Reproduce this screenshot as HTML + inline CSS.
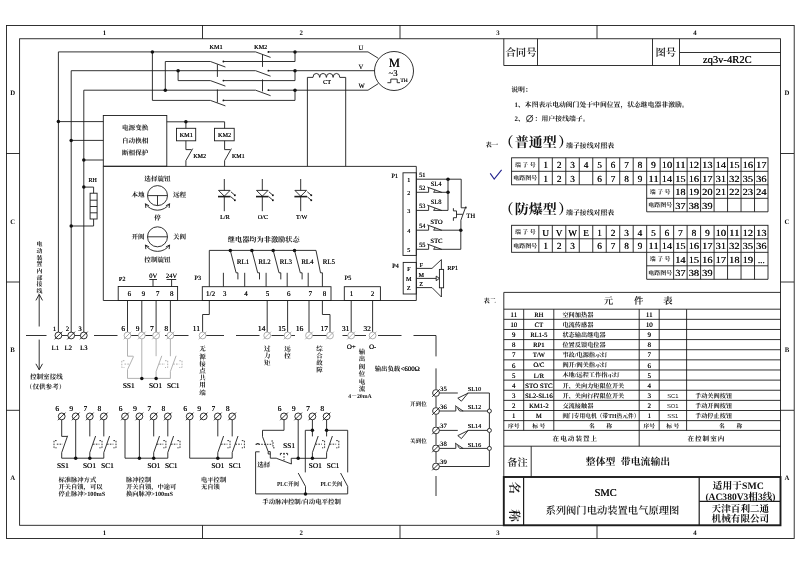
<!DOCTYPE html>
<html lang="zh-CN">
<head>
<meta charset="utf-8">
<title>SMC 系列阀门电动装置电气原理图</title>
<style>
html,body{margin:0;padding:0;background:#fff;}
body{width:800px;height:565px;overflow:hidden;}
svg{display:block;will-change:transform;}
svg text{stroke:none;fill:#111;text-rendering:geometricPrecision;}
.s{font-family:"Liberation Serif","Noto Serif CJK SC",serif;text-shadow:0.16px 0 0 #111;}
.sb{font-family:"Liberation Serif","Noto Serif CJK SC",serif;font-weight:bold;}
.ab{font-family:"Liberation Serif","Noto Serif CJK SC",serif;font-weight:bold;}
.an{font-family:"Liberation Sans","Noto Sans CJK SC",sans-serif;}
.c{font-family:"Liberation Serif","Noto Serif CJK SC",serif;font-weight:500;}
.cb{font-family:"Liberation Serif","Noto Serif CJK SC",serif;font-weight:700;}
.c6{font-family:"Liberation Serif","Noto Serif CJK SC",serif;font-weight:600;}
.ch{font-family:"Liberation Serif","Noto Serif CJK SC",serif;font-weight:700;}
.cm{font-family:"Liberation Serif","Noto Serif CJK SC",serif;font-weight:700;}
</style>
</head>
<body>
<svg width="800" height="565" viewBox="0 0 800 565">
<rect x="0" y="0" width="800" height="565" fill="#fff"/>
<g fill="none" stroke="#1c1c1c" stroke-width="0.9">
<g id="frame">
<rect x="6.5" y="25.5" width="787.7" height="513"/>
<rect x="19.6" y="38.75" width="760.9" height="486.55"/>
<line x1="202.5" y1="25" x2="202.5" y2="38.75"/>
<line x1="202.5" y1="525.3" x2="202.5" y2="538.6"/>
<line x1="400" y1="25" x2="400" y2="38.75"/>
<line x1="400" y1="525.3" x2="400" y2="538.6"/>
<line x1="597" y1="25" x2="597" y2="38.75"/>
<line x1="597" y1="525.3" x2="597" y2="538.6"/>
<line x1="6" y1="153.5" x2="19.6" y2="153.5"/>
<line x1="780.5" y1="153.5" x2="794" y2="153.5"/>
<line x1="6" y1="282" x2="19.6" y2="282"/>
<line x1="780.5" y1="282" x2="794" y2="282"/>
<line x1="6" y1="410.3" x2="19.6" y2="410.3"/>
<line x1="780.5" y1="410.3" x2="794" y2="410.3"/>
<text class="ab" x="104.5" y="34.58" font-size="6.8" text-anchor="middle">1</text>
<text class="ab" x="104.5" y="534.68" font-size="6.8" text-anchor="middle">1</text>
<text class="ab" x="301.25" y="34.58" font-size="6.8" text-anchor="middle">2</text>
<text class="ab" x="301.25" y="534.68" font-size="6.8" text-anchor="middle">2</text>
<text class="ab" x="498" y="34.58" font-size="6.8" text-anchor="middle">3</text>
<text class="ab" x="498" y="534.68" font-size="6.8" text-anchor="middle">3</text>
<text class="ab" x="695" y="34.58" font-size="6.8" text-anchor="middle">4</text>
<text class="ab" x="695" y="534.68" font-size="6.8" text-anchor="middle">4</text>
<text class="ab" x="12.6" y="95.38" font-size="6.8" text-anchor="middle">D</text>
<text class="ab" x="787" y="95.38" font-size="6.8" text-anchor="middle">D</text>
<text class="ab" x="12.6" y="223.88" font-size="6.8" text-anchor="middle">C</text>
<text class="ab" x="787" y="223.88" font-size="6.8" text-anchor="middle">C</text>
<text class="ab" x="12.6" y="351.88" font-size="6.8" text-anchor="middle">B</text>
<text class="ab" x="787" y="351.88" font-size="6.8" text-anchor="middle">B</text>
<text class="ab" x="12.6" y="480.08" font-size="6.8" text-anchor="middle">A</text>
<text class="ab" x="787" y="480.08" font-size="6.8" text-anchor="middle">A</text>
</g>
<g id="power">
<polyline points="58.4,332.1 58.4,51.9 255.6,51.9"/>
<polyline points="71.2,332.1 71.2,70.7 255.6,70.7"/>
<polyline points="83.8,332.1 83.8,90.2 255.6,90.2"/>
<polyline points="152.4,51.9 152.4,100.4 210.4,100.4"/>
<polyline points="165.3,90.2 165.3,61.5 210.4,61.5"/>
<polyline points="178.1,70.7 178.1,80.6 210.4,80.6"/>
<circle cx="152.4" cy="51.9" r="1.75" fill="#111" stroke="none"/>
<circle cx="165.3" cy="90.2" r="1.75" fill="#111" stroke="none"/>
<circle cx="178.1" cy="70.7" r="1.75" fill="#111" stroke="none"/>
<line x1="210.4" y1="61.5" x2="225.4" y2="67"/>
<line x1="223.2" y1="61.5" x2="295" y2="61.5"/>
<circle cx="223.4" cy="61.5" r="0.9" fill="#111" stroke="none"/>
<line x1="210.4" y1="80.6" x2="225.4" y2="86.1"/>
<line x1="223.2" y1="80.6" x2="295" y2="80.6"/>
<circle cx="223.4" cy="80.6" r="0.9" fill="#111" stroke="none"/>
<line x1="210.4" y1="100.4" x2="225.4" y2="105.9"/>
<line x1="223.2" y1="100.4" x2="295" y2="100.4"/>
<circle cx="223.4" cy="100.4" r="0.9" fill="#111" stroke="none"/>
<line x1="255.6" y1="51.9" x2="270.6" y2="57.4"/>
<line x1="268.2" y1="51.9" x2="295" y2="51.9"/>
<circle cx="268.4" cy="51.9" r="0.9" fill="#111" stroke="none"/>
<line x1="255.6" y1="70.7" x2="270.6" y2="76.2"/>
<line x1="268.2" y1="70.7" x2="295" y2="70.7"/>
<circle cx="268.4" cy="70.7" r="0.9" fill="#111" stroke="none"/>
<line x1="255.6" y1="90.2" x2="270.6" y2="95.7"/>
<line x1="268.2" y1="90.2" x2="295" y2="90.2"/>
<circle cx="268.4" cy="90.2" r="0.9" fill="#111" stroke="none"/>
<text class="s" x="216" y="48.97" font-size="6.21" text-anchor="middle">KM1</text>
<text class="s" x="260.6" y="48.97" font-size="6.21" text-anchor="middle">KM2</text>
<line x1="217.4" y1="64.4" x2="217.4" y2="76.9"/>
<line x1="217.4" y1="89.4" x2="217.4" y2="102.6"/>
<line x1="262.5" y1="54.4" x2="262.5" y2="66.9"/>
<line x1="262.5" y1="79.4" x2="262.5" y2="91.4"/>
<line x1="295" y1="51.9" x2="295" y2="61.5"/>
<circle cx="295" cy="51.9" r="1.75" fill="#111" stroke="none"/>
<line x1="295" y1="70.7" x2="295" y2="80.6"/>
<circle cx="295" cy="70.7" r="1.75" fill="#111" stroke="none"/>
<line x1="295" y1="90.2" x2="295" y2="100.4"/>
<circle cx="295" cy="90.2" r="1.75" fill="#111" stroke="none"/>
<polyline points="295,51.9 368,51.9 378.3,58.3"/>
<line x1="295" y1="70.7" x2="374.6" y2="70.7"/>
<polyline points="295,90.2 368,90.2 378.3,83.6"/>
<circle cx="394" cy="71" r="19.5"/>
<text class="s" x="360.8" y="50.25" font-size="6.42" text-anchor="middle">U</text>
<text class="s" x="360.8" y="68.85" font-size="6.42" text-anchor="middle">V</text>
<text class="s" x="361.5" y="88.45" font-size="6.42" text-anchor="middle">W</text>
<text class="s" x="394.3" y="66.71" font-size="12.6" text-anchor="middle">M</text>
<text class="s" x="393" y="76.27" font-size="8.77" text-anchor="middle">~3</text>
<polyline points="387.4,82.7 390.8,82.7 390.8,79.1 397.2,79.1 397.2,82.7 400,82.7"/>
<text class="s" x="404" y="81.75" font-size="5.56" text-anchor="middle">TH</text>
<polyline points="307.4,166.2 307.4,77.4 313,77.4"/>
<polyline points="345.7,166.2 345.7,77.4 339.8,77.4"/>
<path d="M313,77.4 a3.35,3.95 0 0 1 6.7,0 a3.35,3.95 0 0 1 6.7,0 a3.35,3.95 0 0 1 6.7,0 a3.35,3.95 0 0 1 6.7,0"/>
<text class="s" x="327" y="84.37" font-size="6.21" text-anchor="middle">CT</text>
</g>
<g id="pbox">
<rect x="103.3" y="115.5" width="63.5" height="50.7"/>
<line x1="58.4" y1="121.6" x2="103.3" y2="121.6"/>
<circle cx="58.4" cy="121.6" r="1.75" fill="#111" stroke="none"/>
<line x1="71.2" y1="140.4" x2="103.3" y2="140.4"/>
<circle cx="71.2" cy="140.4" r="1.75" fill="#111" stroke="none"/>
<line x1="83.8" y1="160" x2="103.3" y2="160"/>
<circle cx="83.8" cy="160" r="1.75" fill="#111" stroke="none"/>
<text class="cb" x="135.2" y="130.31" font-size="6.6" text-anchor="middle">电源变换</text>
<text class="cb" x="135.2" y="142.81" font-size="6.6" text-anchor="middle">自动换相</text>
<text class="cb" x="135.2" y="155.31" font-size="6.6" text-anchor="middle">断相保护</text>
<polyline points="166.8,121.8 224.6,121.8 224.6,128.3"/>
<circle cx="185.9" cy="121.8" r="1.75" fill="#111" stroke="none"/>
<line x1="185.9" y1="121.8" x2="185.9" y2="128.3"/>
<rect x="176.5" y="128.3" width="19.2" height="12.5"/>
<rect x="214.5" y="128.3" width="19.7" height="12.5"/>
<text class="s" x="186.2" y="136.87" font-size="6.21" text-anchor="middle">KM1</text>
<text class="s" x="224.5" y="136.87" font-size="6.21" text-anchor="middle">KM2</text>
<line x1="185.9" y1="140.8" x2="185.9" y2="149.6"/>
<line x1="185.9" y1="149.6" x2="191.5" y2="149.6"/>
<line x1="185.9" y1="166.2" x2="185.9" y2="160.6"/>
<line x1="185.9" y1="160.6" x2="192.7" y2="148.6"/>
<line x1="224.6" y1="140.8" x2="224.6" y2="149.6"/>
<line x1="224.6" y1="149.6" x2="230.2" y2="149.6"/>
<line x1="224.6" y1="166.2" x2="224.6" y2="160.6"/>
<line x1="224.6" y1="160.6" x2="231.4" y2="148.6"/>
<text class="s" x="199.6" y="158.3" font-size="5.99" text-anchor="middle">KM2</text>
<text class="s" x="238.2" y="158.3" font-size="5.99" text-anchor="middle">KM1</text>
<text class="s" x="92.6" y="182.1" font-size="5.99" text-anchor="middle">RH</text>
<circle cx="83.8" cy="187.1" r="1.75" fill="#111" stroke="none"/>
<polyline points="83.8,187.1 93.6,187.1 93.6,193.2"/>
<rect x="90.1" y="193.2" width="7" height="25.8"/>
<line x1="90.1" y1="200.2" x2="97.1" y2="200.2"/>
<line x1="90.1" y1="206.5" x2="97.1" y2="206.5"/>
<line x1="90.1" y1="212.8" x2="97.1" y2="212.8"/>
<polyline points="93.6,219 93.6,226 71.2,226"/>
<circle cx="71.2" cy="226" r="1.75" fill="#111" stroke="none"/>
</g>
<g id="mainbox">
<polyline points="103.3,166.4 416.3,166.4 416.3,300.5"/>
<line x1="103.3" y1="166.4" x2="103.3" y2="300.5"/>
<line x1="103.3" y1="300.5" x2="416.3" y2="300.5"/>
<text class="cb" x="157.5" y="181.31" font-size="6.6" text-anchor="middle">选择旋钮</text>
<circle cx="157.5" cy="195.6" r="10"/>
<line x1="147.5" y1="195.6" x2="167.5" y2="195.6"/>
<line x1="157.5" y1="195.6" x2="157.5" y2="205.6"/>
<text class="cb" x="138" y="197.31" font-size="6.6" text-anchor="middle">本地</text>
<text class="cb" x="179.6" y="197.31" font-size="6.6" text-anchor="middle">远程</text>
<path d="M145.4,203.76 A14.6,14.6 0 0 0 169.6,203.76"/>
<polyline points="149.1,205.74 145.4,203.76 145.84,207.94"/>
<polyline points="169.16,207.94 169.6,203.76 165.9,205.74"/>
<text class="cb" x="157.5" y="219.71" font-size="6.6" text-anchor="middle">停</text>
<circle cx="157.5" cy="236.8" r="10"/>
<line x1="147.5" y1="236.8" x2="167.5" y2="236.8"/>
<text class="cb" x="138" y="238.91" font-size="6.6" text-anchor="middle">开阀</text>
<text class="cb" x="179.6" y="238.91" font-size="6.6" text-anchor="middle">关阀</text>
<path d="M145.4,244.96 A14.6,14.6 0 0 0 169.6,244.96"/>
<polyline points="149.1,246.94 145.4,244.96 145.84,249.14"/>
<polyline points="169.16,249.14 169.6,244.96 165.9,246.94"/>
<text class="cb" x="157.5" y="262.11" font-size="6.6" text-anchor="middle">控制旋钮</text>
<line x1="224.3" y1="179" x2="224.3" y2="211.2"/>
<path d="M218.5,190.4 L230.1,190.4 L224.3,196.2 Z" fill="#fff"/>
<line x1="218" y1="196.6" x2="230.6" y2="196.6" stroke-width="1.6"/>
<line x1="230.9" y1="191.8" x2="234.5" y2="194.9"/>
<rect x="234" y="194.4" width="1.7" height="1.7" fill="#111" stroke="none"/>
<line x1="230.9" y1="196.8" x2="234.5" y2="199.9"/>
<rect x="234" y="199.4" width="1.7" height="1.7" fill="#111" stroke="none"/>
<text class="s" x="224.8" y="218.77" font-size="6.21" text-anchor="middle">L/R</text>
<line x1="262.3" y1="179" x2="262.3" y2="211.2"/>
<path d="M256.5,190.4 L268.1,190.4 L262.3,196.2 Z" fill="#fff"/>
<line x1="256" y1="196.6" x2="268.6" y2="196.6" stroke-width="1.6"/>
<line x1="268.9" y1="191.8" x2="272.5" y2="194.9"/>
<rect x="272" y="194.4" width="1.7" height="1.7" fill="#111" stroke="none"/>
<line x1="268.9" y1="196.8" x2="272.5" y2="199.9"/>
<rect x="272" y="199.4" width="1.7" height="1.7" fill="#111" stroke="none"/>
<text class="s" x="262.8" y="218.77" font-size="6.21" text-anchor="middle">O/C</text>
<line x1="300.7" y1="179" x2="300.7" y2="211.2"/>
<path d="M294.9,190.4 L306.5,190.4 L300.7,196.2 Z" fill="#fff"/>
<line x1="294.4" y1="196.6" x2="307" y2="196.6" stroke-width="1.6"/>
<line x1="307.3" y1="191.8" x2="310.9" y2="194.9"/>
<rect x="310.4" y="194.4" width="1.7" height="1.7" fill="#111" stroke="none"/>
<line x1="307.3" y1="196.8" x2="310.9" y2="199.9"/>
<rect x="310.4" y="199.4" width="1.7" height="1.7" fill="#111" stroke="none"/>
<text class="s" x="301.6" y="218.77" font-size="6.21" text-anchor="middle">T/W</text>
<text class="cb" x="263.7" y="241.52" font-size="7.2" text-anchor="middle">继电器均为非激励状态</text>
<polyline points="209.3,286.7 209.3,250.4 316,250.4"/>
<circle cx="230.3" cy="250.4" r="1.75" fill="#111" stroke="none"/>
<polyline points="230.3,250.4 236.1,272.8 237.9,272.8 237.9,279.4"/>
<circle cx="251.9" cy="250.4" r="1.75" fill="#111" stroke="none"/>
<polyline points="251.9,250.4 257.7,272.8 259.5,272.8 259.5,279.4"/>
<circle cx="273.2" cy="250.4" r="1.75" fill="#111" stroke="none"/>
<polyline points="273.2,250.4 279,272.8 280.8,272.8 280.8,279.4"/>
<circle cx="294.5" cy="250.4" r="1.75" fill="#111" stroke="none"/>
<polyline points="294.5,250.4 300.3,272.8 302.1,272.8 302.1,279.4"/>
<polyline points="316,250.4 320.5,272.8 322.4,272.8 322.4,286.7"/>
<line x1="223.4" y1="272.8" x2="223.4" y2="286.7"/>
<line x1="244.7" y1="272.8" x2="244.7" y2="286.7"/>
<line x1="266.1" y1="272.8" x2="266.1" y2="286.7"/>
<line x1="287.2" y1="272.8" x2="287.2" y2="286.7"/>
<line x1="308.2" y1="272.8" x2="308.2" y2="286.7"/>
<text class="s" x="243" y="264.02" font-size="6.9" text-anchor="middle">RL1</text>
<text class="s" x="264.5" y="264.02" font-size="6.9" text-anchor="middle">RL2</text>
<text class="s" x="285.8" y="264.02" font-size="6.9" text-anchor="middle">RL3</text>
<text class="s" x="307.4" y="264.02" font-size="6.9" text-anchor="middle">RL4</text>
<text class="s" x="328.8" y="264.02" font-size="6.9" text-anchor="middle">RL5</text>
<rect x="118.2" y="286.5" width="59.4" height="14"/>
<text class="s" x="129.3" y="296.29" font-size="7.1" text-anchor="middle">6</text>
<text class="s" x="143.3" y="296.29" font-size="7.1" text-anchor="middle">9</text>
<text class="s" x="157.5" y="296.29" font-size="7.1" text-anchor="middle">7</text>
<text class="s" x="171.7" y="296.29" font-size="7.1" text-anchor="middle">8</text>
<text class="s" x="122.2" y="280.6" font-size="6.3" text-anchor="middle">P2</text>
<text class="s" x="153.2" y="277.81" font-size="6.6" text-anchor="middle">0V</text>
<text class="s" x="171.4" y="277.81" font-size="6.6" text-anchor="middle">24V</text>
<line x1="153" y1="279.5" x2="153" y2="286.5"/>
<line x1="171.6" y1="279.5" x2="171.6" y2="286.5"/>
<line x1="149.3" y1="279.5" x2="157" y2="279.5"/>
<line x1="166.6" y1="279.5" x2="176.2" y2="279.5"/>
<rect x="202.3" y="286.7" width="128.7" height="13.8"/>
<text class="s" x="210.5" y="296.49" font-size="7.1" text-anchor="middle">1/2</text>
<text class="s" x="224.6" y="296.49" font-size="7.1" text-anchor="middle">3</text>
<text class="s" x="245.9" y="296.49" font-size="7.1" text-anchor="middle">4</text>
<text class="s" x="267.4" y="296.49" font-size="7.1" text-anchor="middle">5</text>
<text class="s" x="288.7" y="296.49" font-size="7.1" text-anchor="middle">6</text>
<text class="s" x="310.2" y="296.49" font-size="7.1" text-anchor="middle">7</text>
<text class="s" x="324.4" y="296.49" font-size="7.1" text-anchor="middle">8</text>
<text class="s" x="197.7" y="280.24" font-size="6.4" text-anchor="middle">P3</text>
<rect x="344.3" y="286.7" width="36.1" height="13.8"/>
<text class="s" x="351.4" y="296.49" font-size="7.1" text-anchor="middle">1</text>
<text class="s" x="372.4" y="296.49" font-size="7.1" text-anchor="middle">2</text>
<text class="s" x="347.8" y="280.24" font-size="6.4" text-anchor="middle">P5</text>
</g>
<g id="p1">
<rect x="403" y="172.8" width="13.3" height="82.6"/>
<rect x="403.2" y="262.4" width="13.1" height="31.6"/>
<text class="s" x="394.6" y="178.24" font-size="6.4" text-anchor="middle">P1</text>
<text class="s" x="395.4" y="268.24" font-size="6.4" text-anchor="middle">P4</text>
<text class="s" x="408.7" y="181.57" font-size="6.21" text-anchor="middle">1</text>
<text class="s" x="408.7" y="194.77" font-size="6.21" text-anchor="middle">2</text>
<text class="s" x="408.7" y="213.37" font-size="6.21" text-anchor="middle">3</text>
<text class="s" x="408.7" y="232.57" font-size="6.21" text-anchor="middle">4</text>
<text class="s" x="408.7" y="252.17" font-size="6.21" text-anchor="middle">5</text>
<text class="s" x="422.2" y="176.94" font-size="6.4" text-anchor="middle">51</text>
<text class="s" x="422.2" y="190.04" font-size="6.4" text-anchor="middle">52</text>
<text class="s" x="422.2" y="208.14" font-size="6.4" text-anchor="middle">53</text>
<text class="s" x="422.2" y="227.94" font-size="6.4" text-anchor="middle">54</text>
<text class="s" x="422.2" y="247.04" font-size="6.4" text-anchor="middle">55</text>
<polyline points="416.3,179.2 461.2,179.2 461.2,207.8"/>
<circle cx="448" cy="179.2" r="1.75" fill="#111" stroke="none"/>
<line x1="448" y1="179.2" x2="448" y2="210.4"/>
<circle cx="448" cy="192.3" r="1.75" fill="#111" stroke="none"/>
<line x1="416.3" y1="192.3" x2="428.6" y2="192.3"/>
<line x1="428.6" y1="192.3" x2="428.6" y2="188"/>
<line x1="427.2" y1="187" x2="441.8" y2="192.4"/>
<path d="M435.2,189.9 L433.6,192.3 L448,192.3" />
<text class="s" x="436" y="186.21" font-size="6.6" text-anchor="middle">SL4</text>
<line x1="416.3" y1="210.4" x2="428.6" y2="210.4"/>
<line x1="428.6" y1="210.4" x2="428.6" y2="206.1"/>
<line x1="427.2" y1="205.1" x2="441.8" y2="210.5"/>
<path d="M435.2,208 L433.6,210.4 L448,210.4" />
<text class="s" x="436" y="204.31" font-size="6.6" text-anchor="middle">SL8</text>
<line x1="416.3" y1="230.2" x2="428.6" y2="230.2"/>
<line x1="428.6" y1="230.2" x2="428.6" y2="225.9"/>
<line x1="427.2" y1="224.9" x2="441.8" y2="230.3"/>
<path d="M435.2,227.8 L433.6,230.2 L460.8,230.2" />
<text class="s" x="436.4" y="224.11" font-size="6.6" text-anchor="middle">STO</text>
<line x1="416.3" y1="249.3" x2="428.6" y2="249.3"/>
<line x1="428.6" y1="249.3" x2="428.6" y2="245"/>
<line x1="427.2" y1="244" x2="441.8" y2="249.4"/>
<path d="M435.2,246.9 L433.6,249.3 L460.8,249.3" />
<text class="s" x="436.4" y="243.21" font-size="6.6" text-anchor="middle">STC</text>
<circle cx="460.8" cy="230.2" r="1.75" fill="#111" stroke="none"/>
<line x1="460.8" y1="230.2" x2="460.8" y2="249.3"/>
<line x1="465.9" y1="206.4" x2="460.9" y2="220.2"/>
<line x1="460.9" y1="220.2" x2="460.9" y2="230.2"/>
<line x1="461.2" y1="207.8" x2="467" y2="207.8"/>
<polyline points="453.4,208.2 453.4,210.9 456.5,210.9 456.5,217.7 453.4,217.7 453.4,220.8"/>
<line x1="456.5" y1="214.3" x2="462.8" y2="214.3"/>
<text class="s" x="470.6" y="217.51" font-size="6.6" text-anchor="middle">TH</text>
<text class="s" x="408.7" y="270.57" font-size="6.21" text-anchor="middle">F</text>
<text class="s" x="421.2" y="266.8" font-size="5.99" text-anchor="middle">F</text>
<text class="s" x="408.7" y="280.77" font-size="6.21" text-anchor="middle">M</text>
<text class="s" x="421.2" y="276.8" font-size="5.99" text-anchor="middle">M</text>
<text class="s" x="408.7" y="289.97" font-size="6.21" text-anchor="middle">Z</text>
<text class="s" x="421.2" y="286" font-size="5.99" text-anchor="middle">Z</text>
<polyline points="416.3,268.4 432,268.4 441.4,259.6 441.4,269.4"/>
<polyline points="416.3,287.6 432,287.6 441.4,297 441.4,287.8"/>
<rect x="439.4" y="269.4" width="4.2" height="18.4"/>
<line x1="416.3" y1="278.4" x2="436.4" y2="278.4"/>
<path d="M436.2,276.1 L439.4,278.4 L436.2,280.7 Z" fill="#fff"/>
<text class="s" x="452.6" y="269.81" font-size="6.31" text-anchor="middle">RP1</text>
</g>
<g id="terms">
<line x1="26" y1="335.5" x2="46.5" y2="335.5"/>
<line x1="58.5" y1="335.5" x2="82" y2="335.5"/>
<line x1="94" y1="335.5" x2="117.5" y2="335.5"/>
<line x1="129.5" y1="335.5" x2="153" y2="335.5"/>
<line x1="165" y1="335.5" x2="188.5" y2="335.5"/>
<line x1="200.5" y1="335.5" x2="224" y2="335.5"/>
<line x1="236" y1="335.5" x2="259.5" y2="335.5"/>
<line x1="271.5" y1="335.5" x2="295" y2="335.5"/>
<line x1="307" y1="335.5" x2="330.5" y2="335.5"/>
<line x1="342.5" y1="335.5" x2="366" y2="335.5"/>
<line x1="378" y1="335.5" x2="401.5" y2="335.5"/>
<line x1="413.5" y1="335.5" x2="436" y2="335.5"/>
<polyline points="436,335.5 436,356.4"/>
<line x1="436" y1="368.4" x2="436" y2="389"/>
<line x1="436" y1="396.6" x2="436" y2="407.2"/>
<line x1="436" y1="414.6" x2="436" y2="426.6"/>
<line x1="436" y1="434" x2="436" y2="444.6"/>
<line x1="436" y1="452" x2="436" y2="462.6"/>
<line x1="436" y1="476" x2="436" y2="496"/>
<line x1="39.2" y1="326.5" x2="39.2" y2="294.6"/>
<polyline points="35.9,300.4 39.2,294.4 42.5,300.4"/>
<line x1="39.2" y1="339.6" x2="39.2" y2="369.6"/>
<polyline points="35.9,363.8 39.2,369.8 42.5,363.8"/>
<text class="cm" x="39.4" y="246.06" font-size="5.9" text-anchor="middle">电</text>
<text class="cm" x="39.4" y="252.78" font-size="5.9" text-anchor="middle">动</text>
<text class="cm" x="39.4" y="259.5" font-size="5.9" text-anchor="middle">装</text>
<text class="cm" x="39.4" y="266.23" font-size="5.9" text-anchor="middle">置</text>
<text class="cm" x="39.4" y="272.94" font-size="5.9" text-anchor="middle">内</text>
<text class="cm" x="39.4" y="279.67" font-size="5.9" text-anchor="middle">部</text>
<text class="cm" x="39.4" y="286.38" font-size="5.9" text-anchor="middle">接</text>
<text class="cm" x="39.4" y="293.11" font-size="5.9" text-anchor="middle">线</text>
<text class="cb" x="46.4" y="379.31" font-size="6.6" text-anchor="middle">控制室接线</text>
<text class="cb" x="45.6" y="388.61" font-size="6.6" text-anchor="middle">（仅供参考）</text>
<circle cx="58.4" cy="335.5" r="3.4" fill="#fff"/>
<line x1="54.58" y1="339.32" x2="62.22" y2="331.68"/>
<text class="s" x="54.5" y="330.92" font-size="6.63" text-anchor="middle">1</text>
<text class="s" x="55.3" y="350.12" font-size="6.63" text-anchor="middle">L1</text>
<circle cx="71.2" cy="335.5" r="3.4" fill="#fff"/>
<line x1="67.38" y1="339.32" x2="75.02" y2="331.68"/>
<text class="s" x="67.3" y="330.92" font-size="6.63" text-anchor="middle">2</text>
<text class="s" x="68.2" y="350.12" font-size="6.63" text-anchor="middle">L2</text>
<circle cx="83.8" cy="335.5" r="3.4" fill="#fff"/>
<line x1="79.98" y1="339.32" x2="87.62" y2="331.68"/>
<text class="s" x="79.9" y="330.92" font-size="6.63" text-anchor="middle">3</text>
<text class="s" x="83.8" y="350.12" font-size="6.63" text-anchor="middle">L3</text>
<line x1="127.5" y1="300.5" x2="127.5" y2="332.3"/>
<circle cx="127.5" cy="335.5" r="3.4" stroke="#a8a8a8" fill="#fff"/>
<line x1="123.68" y1="339.32" x2="131.32" y2="331.68" stroke="#a8a8a8"/>
<text class="s" x="123.2" y="331.12" font-size="7.5" text-anchor="middle">6</text>
<line x1="141.8" y1="300.5" x2="141.8" y2="332.3"/>
<circle cx="141.8" cy="335.5" r="3.4" stroke="#a8a8a8" fill="#fff"/>
<line x1="137.98" y1="339.32" x2="145.62" y2="331.68" stroke="#a8a8a8"/>
<text class="s" x="137.5" y="331.12" font-size="7.5" text-anchor="middle">9</text>
<line x1="156.1" y1="300.5" x2="156.1" y2="332.3"/>
<circle cx="156.1" cy="335.5" r="3.4" stroke="#a8a8a8" fill="#fff"/>
<line x1="152.28" y1="339.32" x2="159.92" y2="331.68" stroke="#a8a8a8"/>
<text class="s" x="151.8" y="331.12" font-size="7.5" text-anchor="middle">7</text>
<line x1="170.4" y1="300.5" x2="170.4" y2="332.3"/>
<circle cx="170.4" cy="335.5" r="3.4" stroke="#a8a8a8" fill="#fff"/>
<line x1="166.58" y1="339.32" x2="174.22" y2="331.68" stroke="#a8a8a8"/>
<text class="s" x="166.1" y="331.12" font-size="7.5" text-anchor="middle">8</text>
<g stroke="#a8a8a8">
<polyline points="127.5,338.9 127.5,356.2 133.2,356.2"/>
<line x1="127.5" y1="369.6" x2="133.6" y2="356.4"/>
<line x1="127.5" y1="369.6" x2="127.5" y2="378.4"/>
<line x1="141.8" y1="338.9" x2="141.8" y2="378.4"/>
<line x1="156.1" y1="338.9" x2="156.1" y2="356.2"/>
<line x1="156.1" y1="371.4" x2="161.8" y2="355.8"/>
<line x1="156.1" y1="371.4" x2="156.1" y2="378.4"/>
<line x1="170.4" y1="338.9" x2="170.4" y2="356.2"/>
<line x1="170.4" y1="371.4" x2="176.1" y2="355.8"/>
<line x1="170.4" y1="371.4" x2="170.4" y2="378.4"/>
<line x1="127.5" y1="378.4" x2="170.4" y2="378.4"/>
<line x1="124.5" y1="364.1" x2="130" y2="364.1" stroke-dasharray="1.6 1.2"/>
<polyline points="124.4,360.7 121.8,360.7 121.8,367.5 124.4,367.5" stroke-dasharray="1.6 1.2"/>
<line x1="159" y1="364.1" x2="165" y2="364.1" stroke-dasharray="1.6 1.2"/>
<polyline points="165,360.7 167.7,360.7 167.7,367.5 165,367.5" stroke-dasharray="1.6 1.2"/>
<line x1="173.2" y1="364.1" x2="179.3" y2="364.1" stroke-dasharray="1.6 1.2"/>
<polyline points="179.3,360.7 182,360.7 182,367.5 179.3,367.5" stroke-dasharray="1.6 1.2"/>
</g>
<circle cx="141.8" cy="378.4" r="1.75" fill="#111" stroke="none"/>
<circle cx="156.1" cy="378.4" r="1.75" fill="#111" stroke="none"/>
<text class="s" x="128.7" y="387.86" font-size="7.3" text-anchor="middle">SS1</text>
<text class="s" x="155.4" y="387.86" font-size="7.3" text-anchor="middle">SO1</text>
<text class="s" x="173.2" y="387.86" font-size="7.3" text-anchor="middle">SC1</text>
<polyline points="209.3,300.5 209.3,314.5 202.6,314.5 202.6,332.3"/>
<circle cx="202.6" cy="335.5" r="3.4" stroke="#a8a8a8" fill="#fff"/>
<line x1="198.78" y1="339.32" x2="206.42" y2="331.68" stroke="#a8a8a8"/>
<text class="s" x="196.3" y="331.12" font-size="7.5" text-anchor="middle">11</text>
<text class="cm" x="202.6" y="351.47" font-size="6.5" text-anchor="middle">无</text>
<text class="cm" x="202.6" y="358.67" font-size="6.5" text-anchor="middle">源</text>
<text class="cm" x="202.6" y="365.87" font-size="6.5" text-anchor="middle">接</text>
<text class="cm" x="202.6" y="373.07" font-size="6.5" text-anchor="middle">点</text>
<text class="cm" x="202.6" y="380.27" font-size="6.5" text-anchor="middle">共</text>
<text class="cm" x="202.6" y="387.47" font-size="6.5" text-anchor="middle">用</text>
<text class="cm" x="202.6" y="394.67" font-size="6.5" text-anchor="middle">端</text>
<line x1="267.2" y1="300.5" x2="267.2" y2="332.3"/>
<circle cx="267.2" cy="335.5" r="3.4" stroke="#a8a8a8" fill="#fff"/>
<line x1="263.38" y1="339.32" x2="271.02" y2="331.68" stroke="#a8a8a8"/>
<text class="s" x="261.6" y="331.02" font-size="7.5" text-anchor="middle">14</text>
<line x1="287.6" y1="300.5" x2="287.6" y2="332.3"/>
<circle cx="287.6" cy="335.5" r="3.4" stroke="#a8a8a8" fill="#fff"/>
<line x1="283.78" y1="339.32" x2="291.42" y2="331.68" stroke="#a8a8a8"/>
<text class="s" x="281.8" y="331.02" font-size="7.5" text-anchor="middle">15</text>
<line x1="309" y1="300.5" x2="309" y2="332.3"/>
<circle cx="309" cy="335.5" r="3.4" stroke="#a8a8a8" fill="#fff"/>
<line x1="305.18" y1="339.32" x2="312.82" y2="331.68" stroke="#a8a8a8"/>
<text class="s" x="299.6" y="331.02" font-size="7.5" text-anchor="middle">16</text>
<polyline points="322.4,300.5 322.4,314.5 330,314.5 330,332.3"/>
<circle cx="330" cy="335.5" r="3.4" stroke="#a8a8a8" fill="#fff"/>
<line x1="326.18" y1="339.32" x2="333.82" y2="331.68" stroke="#a8a8a8"/>
<text class="s" x="324.2" y="331.02" font-size="7.5" text-anchor="middle">17</text>
<text class="cm" x="267.2" y="350.67" font-size="6.5" text-anchor="middle">过</text>
<text class="cm" x="267.2" y="358.07" font-size="6.5" text-anchor="middle">力</text>
<text class="cm" x="267.2" y="365.47" font-size="6.5" text-anchor="middle">矩</text>
<text class="cm" x="287.6" y="350.67" font-size="6.5" text-anchor="middle">远</text>
<text class="cm" x="287.6" y="358.07" font-size="6.5" text-anchor="middle">控</text>
<text class="cm" x="319.4" y="350.67" font-size="6.5" text-anchor="middle">综</text>
<text class="cm" x="319.4" y="357.67" font-size="6.5" text-anchor="middle">合</text>
<text class="cm" x="319.4" y="364.67" font-size="6.5" text-anchor="middle">故</text>
<text class="cm" x="319.4" y="371.67" font-size="6.5" text-anchor="middle">障</text>
<line x1="351.2" y1="300.5" x2="351.2" y2="332.3"/>
<circle cx="351.2" cy="335.5" r="3.4" stroke="#a8a8a8" fill="#fff"/>
<line x1="347.38" y1="339.32" x2="355.02" y2="331.68" stroke="#a8a8a8"/>
<text class="s" x="345.6" y="331.02" font-size="7.5" text-anchor="middle">31</text>
<text class="s" x="351.2" y="349" font-size="6.85" text-anchor="middle">O+</text>
<line x1="372.6" y1="300.5" x2="372.6" y2="332.3"/>
<circle cx="372.6" cy="335.5" r="3.4" stroke="#a8a8a8" fill="#fff"/>
<line x1="368.78" y1="339.32" x2="376.42" y2="331.68" stroke="#a8a8a8"/>
<text class="s" x="367" y="331.02" font-size="7.5" text-anchor="middle">32</text>
<text class="s" x="372.6" y="349" font-size="6.85" text-anchor="middle">O-</text>
<text class="cm" x="362" y="353.88" font-size="6.5" text-anchor="middle">输</text>
<text class="cm" x="362" y="361.31" font-size="6.5" text-anchor="middle">出</text>
<text class="cm" x="362" y="368.75" font-size="6.5" text-anchor="middle">阀</text>
<text class="cm" x="362" y="376.19" font-size="6.5" text-anchor="middle">位</text>
<text class="cm" x="362" y="383.63" font-size="6.5" text-anchor="middle">电</text>
<text class="cm" x="362" y="391.07" font-size="6.5" text-anchor="middle">流</text>
<text class="cb" x="360" y="398.23" font-size="5.8" text-anchor="middle">4－20mA</text>
<text class="cb" x="400.2" y="371.04" font-size="6.4" text-anchor="end">输出负载</text>
<text class="s" x="400.4" y="371.31" font-size="6.9">&lt;600Ω</text>
</g>
<g id="limits">
<circle cx="436" cy="393" r="3.4" fill="#fff"/>
<line x1="432.18" y1="396.82" x2="439.82" y2="389.18"/>
<text class="s" x="443.4" y="390.71" font-size="6.6" text-anchor="middle">35</text>
<circle cx="436" cy="411" r="3.4" fill="#fff"/>
<line x1="432.18" y1="414.82" x2="439.82" y2="407.18"/>
<text class="s" x="443.4" y="408.71" font-size="6.6" text-anchor="middle">36</text>
<circle cx="436" cy="430.4" r="3.4" fill="#fff"/>
<line x1="432.18" y1="434.22" x2="439.82" y2="426.58"/>
<text class="s" x="443.4" y="428.11" font-size="6.6" text-anchor="middle">37</text>
<circle cx="436" cy="448.4" r="3.4" fill="#fff"/>
<line x1="432.18" y1="452.22" x2="439.82" y2="444.58"/>
<text class="s" x="443.4" y="446.11" font-size="6.6" text-anchor="middle">38</text>
<circle cx="436" cy="466.5" r="3.4" fill="#fff"/>
<line x1="432.18" y1="470.32" x2="439.82" y2="462.68"/>
<text class="s" x="443.4" y="464.21" font-size="6.6" text-anchor="middle">39</text>
<line x1="489.4" y1="393" x2="489.4" y2="466.5"/>
<line x1="439.4" y1="466.5" x2="489.4" y2="466.5"/>
<line x1="439.4" y1="393" x2="457.8" y2="393"/>
<path d="M457.8,398.2 L468,393.2 L461.4,401.2 Z" fill="#fff"/>
<line x1="467.6" y1="393" x2="489.4" y2="393"/>
<text class="s" x="474.4" y="390.77" font-size="6.2" text-anchor="middle">SL10</text>
<line x1="439.4" y1="411" x2="455.8" y2="411"/>
<line x1="455.8" y1="411" x2="455.8" y2="406.4"/>
<line x1="455" y1="405.6" x2="463" y2="411"/>
<path d="M457.6,408.2 l2,2.8 l3.6,0"/>
<line x1="462.8" y1="411" x2="489.4" y2="411"/>
<text class="s" x="474.4" y="409.37" font-size="6.2" text-anchor="middle">SL12</text>
<line x1="439.4" y1="430.4" x2="457.8" y2="430.4"/>
<path d="M457.8,435.6 L468,430.6 L461.4,438.6 Z" fill="#fff"/>
<line x1="467.6" y1="430.4" x2="489.4" y2="430.4"/>
<text class="s" x="474.4" y="428.17" font-size="6.2" text-anchor="middle">SL14</text>
<line x1="439.4" y1="448.4" x2="455.8" y2="448.4"/>
<line x1="455.8" y1="448.4" x2="455.8" y2="443.8"/>
<line x1="455" y1="443" x2="463" y2="448.4"/>
<path d="M457.6,445.6 l2,2.8 l3.6,0"/>
<line x1="462.8" y1="448.4" x2="489.4" y2="448.4"/>
<text class="s" x="474.4" y="446.77" font-size="6.2" text-anchor="middle">SL16</text>
<circle cx="489.4" cy="411" r="2" fill="#fff"/>
<circle cx="489.4" cy="430.4" r="2" fill="#fff"/>
<circle cx="489.4" cy="448.4" r="2" fill="#fff"/>
<text class="cb" x="418.4" y="405.96" font-size="5.6" text-anchor="middle">开到位</text>
<text class="cb" x="418.4" y="443.16" font-size="5.6" text-anchor="middle">关到位</text>
</g>
<g id="ctl">
<circle cx="61.7" cy="416.4" r="3.4" fill="#fff"/>
<line x1="57.88" y1="420.22" x2="65.52" y2="412.58"/>
<text class="s" x="57.2" y="411.02" font-size="7.5" text-anchor="middle">6</text>
<circle cx="75.7" cy="416.4" r="3.4" fill="#fff"/>
<line x1="71.88" y1="420.22" x2="79.52" y2="412.58"/>
<text class="s" x="71.2" y="411.02" font-size="7.5" text-anchor="middle">9</text>
<circle cx="89.8" cy="416.4" r="3.4" fill="#fff"/>
<line x1="85.98" y1="420.22" x2="93.62" y2="412.58"/>
<text class="s" x="85.3" y="411.02" font-size="7.5" text-anchor="middle">7</text>
<circle cx="103.8" cy="416.4" r="3.4" fill="#fff"/>
<line x1="99.98" y1="420.22" x2="107.62" y2="412.58"/>
<text class="s" x="99.3" y="411.02" font-size="7.5" text-anchor="middle">8</text>
<polyline points="61.7,419.8 61.7,436.4 67.3,436.4"/>
<line x1="61.7" y1="452.6" x2="67.6" y2="435.8"/>
<line x1="61.7" y1="452.6" x2="61.7" y2="458.2"/>
<line x1="56.8" y1="444.2" x2="62.6" y2="444.2" stroke-dasharray="1.6 1.2"/>
<polyline points="56.6,440.6 54,440.6 54,447.8 56.6,447.8" stroke-dasharray="1.6 1.2"/>
<line x1="75.7" y1="419.8" x2="75.7" y2="458.2"/>
<line x1="89.8" y1="419.8" x2="89.8" y2="436.4"/>
<line x1="89.8" y1="452.6" x2="95.6" y2="436"/>
<line x1="89.8" y1="452.6" x2="89.8" y2="458.2"/>
<line x1="93" y1="444.2" x2="99.4" y2="444.2" stroke-dasharray="1.6 1.2"/>
<polyline points="99.4,440.6 102,440.6 102,447.8 99.4,447.8" stroke-dasharray="1.6 1.2"/>
<line x1="103.8" y1="419.8" x2="103.8" y2="436.4"/>
<line x1="103.8" y1="452.6" x2="109.6" y2="436"/>
<line x1="103.8" y1="452.6" x2="103.8" y2="458.2"/>
<line x1="107" y1="444.2" x2="113.4" y2="444.2" stroke-dasharray="1.6 1.2"/>
<polyline points="113.4,440.6 116,440.6 116,447.8 113.4,447.8" stroke-dasharray="1.6 1.2"/>
<line x1="61.7" y1="458.2" x2="103.8" y2="458.2"/>
<circle cx="75.7" cy="458.2" r="1.75" fill="#111" stroke="none"/>
<circle cx="89.8" cy="458.2" r="1.75" fill="#111" stroke="none"/>
<text class="s" x="62.8" y="468.16" font-size="7.3" text-anchor="middle">SS1</text>
<text class="s" x="89.4" y="468.16" font-size="7.3" text-anchor="middle">SO1</text>
<text class="s" x="107.4" y="468.16" font-size="7.3" text-anchor="middle">SC1</text>
<text class="cm" x="58.4" y="482" font-size="6.3">标准脉冲方式</text>
<text class="cm" x="58.4" y="488.81" font-size="6.3">开关自锁，可以</text>
<text class="cm" x="58.4" y="495.5" font-size="6.3">停止脉冲&gt;100mS</text>
<circle cx="125" cy="416.4" r="3.4" fill="#fff"/>
<line x1="121.18" y1="420.22" x2="128.82" y2="412.58"/>
<text class="s" x="120.5" y="411.02" font-size="7.5" text-anchor="middle">6</text>
<circle cx="139.4" cy="416.4" r="3.4" fill="#fff"/>
<line x1="135.58" y1="420.22" x2="143.22" y2="412.58"/>
<text class="s" x="134.9" y="411.02" font-size="7.5" text-anchor="middle">9</text>
<circle cx="153.7" cy="416.4" r="3.4" fill="#fff"/>
<line x1="149.88" y1="420.22" x2="157.52" y2="412.58"/>
<text class="s" x="149.2" y="411.02" font-size="7.5" text-anchor="middle">7</text>
<circle cx="167.8" cy="416.4" r="3.4" fill="#fff"/>
<line x1="163.98" y1="420.22" x2="171.62" y2="412.58"/>
<text class="s" x="163.3" y="411.02" font-size="7.5" text-anchor="middle">8</text>
<line x1="125" y1="419.8" x2="125" y2="458.2"/>
<line x1="139.4" y1="419.8" x2="139.4" y2="458.2"/>
<line x1="153.7" y1="419.8" x2="153.7" y2="436.4"/>
<line x1="153.7" y1="452.6" x2="159.5" y2="436"/>
<line x1="153.7" y1="452.6" x2="153.7" y2="458.2"/>
<line x1="156.9" y1="444.2" x2="163.3" y2="444.2" stroke-dasharray="1.6 1.2"/>
<polyline points="163.3,440.6 165.9,440.6 165.9,447.8 163.3,447.8" stroke-dasharray="1.6 1.2"/>
<line x1="167.8" y1="419.8" x2="167.8" y2="436.4"/>
<line x1="167.8" y1="452.6" x2="173.6" y2="436"/>
<line x1="167.8" y1="452.6" x2="167.8" y2="458.2"/>
<line x1="171" y1="444.2" x2="177.4" y2="444.2" stroke-dasharray="1.6 1.2"/>
<polyline points="177.4,440.6 180,440.6 180,447.8 177.4,447.8" stroke-dasharray="1.6 1.2"/>
<line x1="125" y1="458.2" x2="167.8" y2="458.2"/>
<circle cx="139.4" cy="458.2" r="1.75" fill="#111" stroke="none"/>
<circle cx="153.7" cy="458.2" r="1.75" fill="#111" stroke="none"/>
<text class="s" x="153.8" y="468.16" font-size="7.3" text-anchor="middle">SO1</text>
<text class="s" x="171.2" y="468.16" font-size="7.3" text-anchor="middle">SC1</text>
<text class="cm" x="126" y="482" font-size="6.3">脉冲控制</text>
<text class="cm" x="126" y="488.81" font-size="6.3">开关自锁，中途可</text>
<text class="cm" x="126" y="495.5" font-size="6.3">换向脉冲&gt;100mS</text>
<circle cx="189.7" cy="416.4" r="3.4" fill="#fff"/>
<line x1="185.88" y1="420.22" x2="193.52" y2="412.58"/>
<text class="s" x="185.2" y="411.02" font-size="7.5" text-anchor="middle">6</text>
<circle cx="203.7" cy="416.4" r="3.4" fill="#fff"/>
<line x1="199.88" y1="420.22" x2="207.52" y2="412.58"/>
<text class="s" x="199.2" y="411.02" font-size="7.5" text-anchor="middle">9</text>
<circle cx="217.8" cy="416.4" r="3.4" fill="#fff"/>
<line x1="213.98" y1="420.22" x2="221.62" y2="412.58"/>
<text class="s" x="213.3" y="411.02" font-size="7.5" text-anchor="middle">7</text>
<circle cx="232.2" cy="416.4" r="3.4" fill="#fff"/>
<line x1="228.38" y1="420.22" x2="236.02" y2="412.58"/>
<text class="s" x="227.7" y="411.02" font-size="7.5" text-anchor="middle">8</text>
<line x1="189.7" y1="419.8" x2="189.7" y2="458.2"/>
<line x1="217.8" y1="419.8" x2="217.8" y2="436.4"/>
<line x1="217.8" y1="452.6" x2="223.6" y2="436"/>
<line x1="217.8" y1="452.6" x2="217.8" y2="458.2"/>
<line x1="221" y1="444.2" x2="227.4" y2="444.2" stroke-dasharray="1.6 1.2"/>
<polyline points="227.4,440.6 230,440.6 230,447.8 227.4,447.8" stroke-dasharray="1.6 1.2"/>
<line x1="232.2" y1="419.8" x2="232.2" y2="436.4"/>
<line x1="232.2" y1="452.6" x2="238" y2="436"/>
<line x1="232.2" y1="452.6" x2="232.2" y2="458.2"/>
<line x1="235.4" y1="444.2" x2="241.8" y2="444.2" stroke-dasharray="1.6 1.2"/>
<polyline points="241.8,440.6 244.4,440.6 244.4,447.8 241.8,447.8" stroke-dasharray="1.6 1.2"/>
<line x1="189.7" y1="458.2" x2="232.2" y2="458.2"/>
<circle cx="217.8" cy="458.2" r="1.75" fill="#111" stroke="none"/>
<text class="s" x="217.8" y="467.95" font-size="7.3" text-anchor="middle">SO1</text>
<text class="s" x="235" y="467.95" font-size="7.3" text-anchor="middle">SC1</text>
<text class="cm" x="201" y="482.2" font-size="6.3">电平控制</text>
<text class="cm" x="201" y="489" font-size="6.3">无自锁</text>
<circle cx="284" cy="416.4" r="3.4" fill="#fff"/>
<line x1="280.18" y1="420.22" x2="287.82" y2="412.58"/>
<text class="s" x="279.5" y="411.02" font-size="7.5" text-anchor="middle">6</text>
<circle cx="298.2" cy="416.4" r="3.4" fill="#fff"/>
<line x1="294.38" y1="420.22" x2="302.02" y2="412.58"/>
<text class="s" x="293.7" y="411.02" font-size="7.5" text-anchor="middle">9</text>
<circle cx="312.4" cy="416.4" r="3.4" fill="#fff"/>
<line x1="308.58" y1="420.22" x2="316.22" y2="412.58"/>
<text class="s" x="307.9" y="411.02" font-size="7.5" text-anchor="middle">7</text>
<circle cx="326.6" cy="416.4" r="3.4" fill="#fff"/>
<line x1="322.78" y1="420.22" x2="330.42" y2="412.58"/>
<text class="s" x="322.1" y="411.02" font-size="7.5" text-anchor="middle">8</text>
<polyline points="284,419.8 284,430.3 262.5,430.3 262.5,436.6 268.2,451.6"/>
<polyline points="268.2,451.6 270.3,451.6 270.3,458.2 276.2,458.2 291.4,464 291.2,458.3 326.6,458.3"/>
<line x1="268.2" y1="451.6" x2="268.2" y2="454"/>
<line x1="268.2" y1="454" x2="270.3" y2="454"/>
<line x1="255.6" y1="444.3" x2="272.8" y2="444.3" stroke-dasharray="1.6 1.2"/>
<path d="M255.2,444.3 l2.6,-1.4 l2.6,1.4 z" fill="#111" stroke="none"/>
<polyline points="271.4,441 273,441 273,447.8 275,447.8" stroke-dasharray="1.6 1.2"/>
<polyline points="259.6,451.8 255.6,451.8 255.6,493.9 347.7,493.9 347.7,486.4 340.6,473"/>
<polyline points="280.4,453.4 287.6,453.4" stroke-dasharray="1.6 1.2"/>
<line x1="284" y1="453.4" x2="284" y2="460.4" stroke-dasharray="1.6 1.2"/>
<line x1="280.4" y1="453.4" x2="280.4" y2="455.2"/>
<line x1="287.6" y1="453.4" x2="287.6" y2="455.2"/>
<line x1="298.2" y1="419.8" x2="298.2" y2="458.2"/>
<circle cx="298.2" cy="458.2" r="1.75" fill="#111" stroke="none"/>
<line x1="312.4" y1="419.8" x2="312.4" y2="436.4"/>
<line x1="312.4" y1="452.6" x2="318.2" y2="436"/>
<line x1="312.4" y1="452.6" x2="312.4" y2="458.2"/>
<line x1="315.6" y1="444.2" x2="322" y2="444.2" stroke-dasharray="1.6 1.2"/>
<polyline points="322,440.6 324.6,440.6 324.6,447.8 322,447.8" stroke-dasharray="1.6 1.2"/>
<line x1="326.6" y1="419.8" x2="326.6" y2="436.4"/>
<line x1="326.6" y1="452.6" x2="332.4" y2="436"/>
<line x1="326.6" y1="452.6" x2="326.6" y2="458.2"/>
<line x1="329.8" y1="444.2" x2="336.2" y2="444.2" stroke-dasharray="1.6 1.2"/>
<polyline points="336.2,440.6 338.8,440.6 338.8,447.8 336.2,447.8" stroke-dasharray="1.6 1.2"/>
<circle cx="312.4" cy="458.2" r="1.75" fill="#111" stroke="none"/>
<circle cx="312.4" cy="430.3" r="1.75" fill="#111" stroke="none"/>
<circle cx="326.6" cy="430.3" r="1.75" fill="#111" stroke="none"/>
<polyline points="312.4,430.3 305.3,430.3 305.3,472.4"/>
<polyline points="326.6,430.3 347.7,430.3 347.7,472.4"/>
<polyline points="298.2,473 305.5,486.4 305.5,493.9"/>
<circle cx="305.5" cy="493.9" r="1.75" fill="#111" stroke="none"/>
<text class="s" x="289" y="448.16" font-size="7.3" text-anchor="middle">SS1</text>
<text class="cb" x="263.8" y="466.91" font-size="6.6" text-anchor="middle">选择</text>
<text class="s" x="315.2" y="467.86" font-size="7.3" text-anchor="middle">SO1</text>
<text class="s" x="333" y="467.86" font-size="7.3" text-anchor="middle">SC1</text>
<text class="cb" x="288" y="485.9" font-size="6" text-anchor="middle" textLength="22" lengthAdjust="spacingAndGlyphs">PLC开阀</text>
<text class="cb" x="331.4" y="485.9" font-size="6" text-anchor="middle" textLength="22" lengthAdjust="spacingAndGlyphs">PLC关阀</text>
<text class="cb" x="301.6" y="503.54" font-size="6.4" text-anchor="middle">手动脉冲控制/自动电平控制</text>
</g>
<g id="hdr">
<line x1="503.8" y1="38.75" x2="503.8" y2="65.5"/>
<line x1="503.8" y1="65.5" x2="780.5" y2="65.5"/>
<line x1="537.5" y1="38.75" x2="537.5" y2="65.5"/>
<line x1="652.5" y1="38.75" x2="652.5" y2="65.5"/>
<line x1="679.5" y1="38.75" x2="679.5" y2="65.5"/>
<line x1="679.5" y1="52.5" x2="780.5" y2="52.5"/>
<text class="c6" x="521" y="56.04" font-size="10.4" text-anchor="middle">合同号</text>
<text class="c6" x="665.8" y="55.64" font-size="10.4" text-anchor="middle">图号</text>
<text class="s" x="727.2" y="62.61" font-size="10.6" text-anchor="middle">zq3v-4R2C</text>
<text class="cb" x="511.2" y="92.02" font-size="6.9">说明：</text>
<text class="cb" x="514.6" y="107.38" font-size="6.8" textLength="174" lengthAdjust="spacing">1、本图表示电动阀门处于中间位置，状态继电器非激励。</text>
<text class="cb" x="514.6" y="121.18" font-size="6.8">2、</text>
<circle cx="529.6" cy="118.6" r="3.1"/>
<line x1="526.6" y1="122.2" x2="532.8" y2="115"/>
<text class="cb" x="534.6" y="121.18" font-size="6.8" textLength="55" lengthAdjust="spacing">：用户接线端子。</text>
</g>
<g id="tab1">
<text class="cb" x="491.8" y="146.84" font-size="6.4" text-anchor="middle">表一</text>
<text class="ch" x="535.8" y="147.3" font-size="14" text-anchor="middle">普通型</text>
<text class="ch" x="513.6" y="147.1" font-size="14" text-anchor="end">（</text>
<text class="ch" x="558.2" y="147.1" font-size="14">）</text>
<text class="cb" x="566" y="148.41" font-size="6.9">端子接线对照表</text>
<text class="ch" x="535.8" y="214.3" font-size="14" text-anchor="middle">防爆型</text>
<text class="ch" x="513.6" y="214.1" font-size="14" text-anchor="end">（</text>
<text class="ch" x="558.2" y="214.1" font-size="14">）</text>
<text class="cb" x="566" y="215.01" font-size="6.9">端子接线对照表</text>
<polyline points="490.2,173.4 494.2,179 501.6,169.8" stroke="#23238e" stroke-width="1.1"/>
<rect x="511.6" y="157.8" width="256.4" height="27"/>
<line x1="511.6" y1="171.3" x2="768" y2="171.3"/>
<line x1="538.84" y1="157.8" x2="538.84" y2="184.8"/>
<line x1="552.32" y1="157.8" x2="552.32" y2="184.8"/>
<line x1="565.8" y1="157.8" x2="565.8" y2="184.8"/>
<line x1="579.28" y1="157.8" x2="579.28" y2="184.8"/>
<line x1="592.76" y1="157.8" x2="592.76" y2="184.8"/>
<line x1="606.24" y1="157.8" x2="606.24" y2="184.8"/>
<line x1="619.72" y1="157.8" x2="619.72" y2="184.8"/>
<line x1="633.2" y1="157.8" x2="633.2" y2="184.8"/>
<line x1="646.68" y1="157.8" x2="646.68" y2="184.8"/>
<line x1="660.16" y1="157.8" x2="660.16" y2="184.8"/>
<line x1="673.64" y1="157.8" x2="673.64" y2="184.8"/>
<line x1="687.12" y1="157.8" x2="687.12" y2="184.8"/>
<line x1="700.6" y1="157.8" x2="700.6" y2="184.8"/>
<line x1="714.08" y1="157.8" x2="714.08" y2="184.8"/>
<line x1="727.56" y1="157.8" x2="727.56" y2="184.8"/>
<line x1="741.04" y1="157.8" x2="741.04" y2="184.8"/>
<line x1="754.52" y1="157.8" x2="754.52" y2="184.8"/>
<polyline points="646.68,184.8 646.68,211.8 768,211.8 768,184.8"/>
<line x1="646.68" y1="198.3" x2="768" y2="198.3"/>
<line x1="673.64" y1="184.8" x2="673.64" y2="211.8"/>
<line x1="687.12" y1="184.8" x2="687.12" y2="211.8"/>
<line x1="700.6" y1="184.8" x2="700.6" y2="211.8"/>
<line x1="714.08" y1="184.8" x2="714.08" y2="211.8"/>
<line x1="727.56" y1="184.8" x2="727.56" y2="211.8"/>
<line x1="741.04" y1="184.8" x2="741.04" y2="211.8"/>
<line x1="754.52" y1="184.8" x2="754.52" y2="211.8"/>
<text class="cb" x="525.22" y="166.62" font-size="5.9" text-anchor="middle">端 子 号</text>
<text class="cb" x="525.22" y="180.15" font-size="6" text-anchor="middle">电路图号</text>
<text class="cb" x="660.16" y="193.62" font-size="5.9" text-anchor="middle">端 子 号</text>
<text class="cb" x="660.16" y="207.15" font-size="6" text-anchor="middle">电路图号</text>
<text class="s" x="545.58" y="168.11" font-size="9.3" text-anchor="middle">1</text>
<text class="s" x="559.06" y="168.11" font-size="9.3" text-anchor="middle">2</text>
<text class="s" x="572.54" y="168.11" font-size="9.3" text-anchor="middle">3</text>
<text class="s" x="586.02" y="168.11" font-size="9.3" text-anchor="middle">4</text>
<text class="s" x="599.5" y="168.11" font-size="9.3" text-anchor="middle">5</text>
<text class="s" x="612.98" y="168.11" font-size="9.3" text-anchor="middle">6</text>
<text class="s" x="626.46" y="168.11" font-size="9.3" text-anchor="middle">7</text>
<text class="s" x="639.94" y="168.11" font-size="9.3" text-anchor="middle">8</text>
<text class="s" x="653.42" y="168.11" font-size="9.3" text-anchor="middle">9</text>
<text class="s" x="666.9" y="168.11" font-size="9.3" text-anchor="middle" textLength="10.4" lengthAdjust="spacingAndGlyphs">10</text>
<text class="s" x="680.38" y="168.11" font-size="9.3" text-anchor="middle" textLength="10.4" lengthAdjust="spacingAndGlyphs">11</text>
<text class="s" x="693.86" y="168.11" font-size="9.3" text-anchor="middle" textLength="10.4" lengthAdjust="spacingAndGlyphs">12</text>
<text class="s" x="707.34" y="168.11" font-size="9.3" text-anchor="middle" textLength="10.4" lengthAdjust="spacingAndGlyphs">13</text>
<text class="s" x="720.82" y="168.11" font-size="9.3" text-anchor="middle" textLength="10.4" lengthAdjust="spacingAndGlyphs">14</text>
<text class="s" x="734.3" y="168.11" font-size="9.3" text-anchor="middle" textLength="10.4" lengthAdjust="spacingAndGlyphs">15</text>
<text class="s" x="747.78" y="168.11" font-size="9.3" text-anchor="middle" textLength="10.4" lengthAdjust="spacingAndGlyphs">16</text>
<text class="s" x="761.26" y="168.11" font-size="9.3" text-anchor="middle" textLength="10.4" lengthAdjust="spacingAndGlyphs">17</text>
<text class="s" x="545.58" y="181.61" font-size="9.3" text-anchor="middle">1</text>
<text class="s" x="559.06" y="181.61" font-size="9.3" text-anchor="middle">2</text>
<text class="s" x="572.54" y="181.61" font-size="9.3" text-anchor="middle">3</text>
<text class="s" x="599.5" y="181.61" font-size="9.3" text-anchor="middle">6</text>
<text class="s" x="612.98" y="181.61" font-size="9.3" text-anchor="middle">7</text>
<text class="s" x="626.46" y="181.61" font-size="9.3" text-anchor="middle">8</text>
<text class="s" x="639.94" y="181.61" font-size="9.3" text-anchor="middle">9</text>
<text class="s" x="653.42" y="181.61" font-size="9.3" text-anchor="middle" textLength="10.4" lengthAdjust="spacingAndGlyphs">11</text>
<text class="s" x="666.9" y="181.61" font-size="9.3" text-anchor="middle" textLength="10.4" lengthAdjust="spacingAndGlyphs">14</text>
<text class="s" x="680.38" y="181.61" font-size="9.3" text-anchor="middle" textLength="10.4" lengthAdjust="spacingAndGlyphs">15</text>
<text class="s" x="693.86" y="181.61" font-size="9.3" text-anchor="middle" textLength="10.4" lengthAdjust="spacingAndGlyphs">16</text>
<text class="s" x="707.34" y="181.61" font-size="9.3" text-anchor="middle" textLength="10.4" lengthAdjust="spacingAndGlyphs">17</text>
<text class="s" x="720.82" y="181.61" font-size="9.3" text-anchor="middle" textLength="10.4" lengthAdjust="spacingAndGlyphs">31</text>
<text class="s" x="734.3" y="181.61" font-size="9.3" text-anchor="middle" textLength="10.4" lengthAdjust="spacingAndGlyphs">32</text>
<text class="s" x="747.78" y="181.61" font-size="9.3" text-anchor="middle" textLength="10.4" lengthAdjust="spacingAndGlyphs">35</text>
<text class="s" x="761.26" y="181.61" font-size="9.3" text-anchor="middle" textLength="10.4" lengthAdjust="spacingAndGlyphs">36</text>
<text class="s" x="680.38" y="195.11" font-size="9.3" text-anchor="middle" textLength="10.4" lengthAdjust="spacingAndGlyphs">18</text>
<text class="s" x="693.86" y="195.11" font-size="9.3" text-anchor="middle" textLength="10.4" lengthAdjust="spacingAndGlyphs">19</text>
<text class="s" x="707.34" y="195.11" font-size="9.3" text-anchor="middle" textLength="10.4" lengthAdjust="spacingAndGlyphs">20</text>
<text class="s" x="720.82" y="195.11" font-size="9.3" text-anchor="middle" textLength="10.4" lengthAdjust="spacingAndGlyphs">21</text>
<text class="s" x="734.3" y="195.11" font-size="9.3" text-anchor="middle" textLength="10.4" lengthAdjust="spacingAndGlyphs">22</text>
<text class="s" x="747.78" y="195.11" font-size="9.3" text-anchor="middle" textLength="10.4" lengthAdjust="spacingAndGlyphs">23</text>
<text class="s" x="761.26" y="195.11" font-size="9.3" text-anchor="middle" textLength="10.4" lengthAdjust="spacingAndGlyphs">24</text>
<text class="s" x="680.38" y="208.61" font-size="9.3" text-anchor="middle" textLength="10.4" lengthAdjust="spacingAndGlyphs">37</text>
<text class="s" x="693.86" y="208.61" font-size="9.3" text-anchor="middle" textLength="10.4" lengthAdjust="spacingAndGlyphs">38</text>
<text class="s" x="707.34" y="208.61" font-size="9.3" text-anchor="middle" textLength="10.4" lengthAdjust="spacingAndGlyphs">39</text>
<rect x="511.6" y="225.3" width="256.4" height="27"/>
<line x1="511.6" y1="238.8" x2="768" y2="238.8"/>
<line x1="538.84" y1="225.3" x2="538.84" y2="252.3"/>
<line x1="552.32" y1="225.3" x2="552.32" y2="252.3"/>
<line x1="565.8" y1="225.3" x2="565.8" y2="252.3"/>
<line x1="579.28" y1="225.3" x2="579.28" y2="252.3"/>
<line x1="592.76" y1="225.3" x2="592.76" y2="252.3"/>
<line x1="606.24" y1="225.3" x2="606.24" y2="252.3"/>
<line x1="619.72" y1="225.3" x2="619.72" y2="252.3"/>
<line x1="633.2" y1="225.3" x2="633.2" y2="252.3"/>
<line x1="646.68" y1="225.3" x2="646.68" y2="252.3"/>
<line x1="660.16" y1="225.3" x2="660.16" y2="252.3"/>
<line x1="673.64" y1="225.3" x2="673.64" y2="252.3"/>
<line x1="687.12" y1="225.3" x2="687.12" y2="252.3"/>
<line x1="700.6" y1="225.3" x2="700.6" y2="252.3"/>
<line x1="714.08" y1="225.3" x2="714.08" y2="252.3"/>
<line x1="727.56" y1="225.3" x2="727.56" y2="252.3"/>
<line x1="741.04" y1="225.3" x2="741.04" y2="252.3"/>
<line x1="754.52" y1="225.3" x2="754.52" y2="252.3"/>
<polyline points="646.68,252.3 646.68,279.3 768,279.3 768,252.3"/>
<line x1="646.68" y1="265.8" x2="768" y2="265.8"/>
<line x1="673.64" y1="252.3" x2="673.64" y2="279.3"/>
<line x1="687.12" y1="252.3" x2="687.12" y2="279.3"/>
<line x1="700.6" y1="252.3" x2="700.6" y2="279.3"/>
<line x1="714.08" y1="252.3" x2="714.08" y2="279.3"/>
<line x1="727.56" y1="252.3" x2="727.56" y2="279.3"/>
<line x1="741.04" y1="252.3" x2="741.04" y2="279.3"/>
<line x1="754.52" y1="252.3" x2="754.52" y2="279.3"/>
<text class="cb" x="525.22" y="234.12" font-size="5.9" text-anchor="middle">端 子 号</text>
<text class="cb" x="525.22" y="247.65" font-size="6" text-anchor="middle">电路图号</text>
<text class="cb" x="660.16" y="261.12" font-size="5.9" text-anchor="middle">端 子 号</text>
<text class="cb" x="660.16" y="274.65" font-size="6" text-anchor="middle">电路图号</text>
<text class="s" x="545.58" y="235.61" font-size="9.3" text-anchor="middle">U</text>
<text class="s" x="559.06" y="235.61" font-size="9.3" text-anchor="middle">V</text>
<text class="s" x="572.54" y="235.61" font-size="9.3" text-anchor="middle">W</text>
<text class="s" x="586.02" y="235.61" font-size="9.3" text-anchor="middle">E</text>
<text class="s" x="599.5" y="235.61" font-size="9.3" text-anchor="middle">1</text>
<text class="s" x="612.98" y="235.61" font-size="9.3" text-anchor="middle">2</text>
<text class="s" x="626.46" y="235.61" font-size="9.3" text-anchor="middle">3</text>
<text class="s" x="639.94" y="235.61" font-size="9.3" text-anchor="middle">4</text>
<text class="s" x="653.42" y="235.61" font-size="9.3" text-anchor="middle">5</text>
<text class="s" x="666.9" y="235.61" font-size="9.3" text-anchor="middle">6</text>
<text class="s" x="680.38" y="235.61" font-size="9.3" text-anchor="middle">7</text>
<text class="s" x="693.86" y="235.61" font-size="9.3" text-anchor="middle">8</text>
<text class="s" x="707.34" y="235.61" font-size="9.3" text-anchor="middle">9</text>
<text class="s" x="720.82" y="235.61" font-size="9.3" text-anchor="middle" textLength="10.4" lengthAdjust="spacingAndGlyphs">10</text>
<text class="s" x="734.3" y="235.61" font-size="9.3" text-anchor="middle" textLength="10.4" lengthAdjust="spacingAndGlyphs">11</text>
<text class="s" x="747.78" y="235.61" font-size="9.3" text-anchor="middle" textLength="10.4" lengthAdjust="spacingAndGlyphs">12</text>
<text class="s" x="761.26" y="235.61" font-size="9.3" text-anchor="middle" textLength="10.4" lengthAdjust="spacingAndGlyphs">13</text>
<text class="s" x="545.58" y="249.11" font-size="9.3" text-anchor="middle">1</text>
<text class="s" x="559.06" y="249.11" font-size="9.3" text-anchor="middle">2</text>
<text class="s" x="572.54" y="249.11" font-size="9.3" text-anchor="middle">3</text>
<text class="s" x="599.5" y="249.11" font-size="9.3" text-anchor="middle">6</text>
<text class="s" x="612.98" y="249.11" font-size="9.3" text-anchor="middle">7</text>
<text class="s" x="626.46" y="249.11" font-size="9.3" text-anchor="middle">8</text>
<text class="s" x="639.94" y="249.11" font-size="9.3" text-anchor="middle">9</text>
<text class="s" x="653.42" y="249.11" font-size="9.3" text-anchor="middle" textLength="10.4" lengthAdjust="spacingAndGlyphs">11</text>
<text class="s" x="666.9" y="249.11" font-size="9.3" text-anchor="middle" textLength="10.4" lengthAdjust="spacingAndGlyphs">14</text>
<text class="s" x="680.38" y="249.11" font-size="9.3" text-anchor="middle" textLength="10.4" lengthAdjust="spacingAndGlyphs">15</text>
<text class="s" x="693.86" y="249.11" font-size="9.3" text-anchor="middle" textLength="10.4" lengthAdjust="spacingAndGlyphs">16</text>
<text class="s" x="707.34" y="249.11" font-size="9.3" text-anchor="middle" textLength="10.4" lengthAdjust="spacingAndGlyphs">17</text>
<text class="s" x="720.82" y="249.11" font-size="9.3" text-anchor="middle" textLength="10.4" lengthAdjust="spacingAndGlyphs">31</text>
<text class="s" x="734.3" y="249.11" font-size="9.3" text-anchor="middle" textLength="10.4" lengthAdjust="spacingAndGlyphs">32</text>
<text class="s" x="747.78" y="249.11" font-size="9.3" text-anchor="middle" textLength="10.4" lengthAdjust="spacingAndGlyphs">35</text>
<text class="s" x="761.26" y="249.11" font-size="9.3" text-anchor="middle" textLength="10.4" lengthAdjust="spacingAndGlyphs">36</text>
<text class="s" x="680.38" y="262.61" font-size="9.3" text-anchor="middle" textLength="10.4" lengthAdjust="spacingAndGlyphs">14</text>
<text class="s" x="693.86" y="262.61" font-size="9.3" text-anchor="middle" textLength="10.4" lengthAdjust="spacingAndGlyphs">15</text>
<text class="s" x="707.34" y="262.61" font-size="9.3" text-anchor="middle" textLength="10.4" lengthAdjust="spacingAndGlyphs">16</text>
<text class="s" x="720.82" y="262.61" font-size="9.3" text-anchor="middle" textLength="10.4" lengthAdjust="spacingAndGlyphs">17</text>
<text class="s" x="734.3" y="262.61" font-size="9.3" text-anchor="middle" textLength="10.4" lengthAdjust="spacingAndGlyphs">18</text>
<text class="s" x="747.78" y="262.61" font-size="9.3" text-anchor="middle" textLength="10.4" lengthAdjust="spacingAndGlyphs">19</text>
<text class="s" x="761.26" y="262.61" font-size="9.3" text-anchor="middle">...</text>
<text class="s" x="680.38" y="276.11" font-size="9.3" text-anchor="middle" textLength="10.4" lengthAdjust="spacingAndGlyphs">37</text>
<text class="s" x="693.86" y="276.11" font-size="9.3" text-anchor="middle" textLength="10.4" lengthAdjust="spacingAndGlyphs">38</text>
<text class="s" x="707.34" y="276.11" font-size="9.3" text-anchor="middle" textLength="10.4" lengthAdjust="spacingAndGlyphs">39</text>
</g>
<g id="tab2">
<text class="cb" x="489.8" y="302.84" font-size="6.4" text-anchor="middle">表二</text>
<polyline points="503.8,477 503.8,292.4 780.5,292.4"/>
<line x1="503.8" y1="309.2" x2="780.5" y2="309.2"/>
<line x1="503.8" y1="319.33" x2="780.5" y2="319.33"/>
<line x1="503.8" y1="329.46" x2="780.5" y2="329.46"/>
<line x1="503.8" y1="339.59" x2="780.5" y2="339.59"/>
<line x1="503.8" y1="349.72" x2="780.5" y2="349.72"/>
<line x1="503.8" y1="359.85" x2="780.5" y2="359.85"/>
<line x1="503.8" y1="369.98" x2="780.5" y2="369.98"/>
<line x1="503.8" y1="380.11" x2="780.5" y2="380.11"/>
<line x1="503.8" y1="390.24" x2="780.5" y2="390.24"/>
<line x1="503.8" y1="400.37" x2="780.5" y2="400.37"/>
<line x1="503.8" y1="410.5" x2="780.5" y2="410.5"/>
<line x1="503.8" y1="420.63" x2="780.5" y2="420.63"/>
<line x1="503.8" y1="430.4" x2="780.5" y2="430.4"/>
<line x1="503.8" y1="446.2" x2="780.5" y2="446.2"/>
<line x1="523.7" y1="309.2" x2="523.7" y2="430.4"/>
<line x1="553.8" y1="309.2" x2="553.8" y2="430.4"/>
<line x1="639.2" y1="309.2" x2="639.2" y2="430.4"/>
<line x1="659.2" y1="309.2" x2="659.2" y2="430.4"/>
<line x1="686.6" y1="309.2" x2="686.6" y2="430.4"/>
<line x1="639.2" y1="430.4" x2="639.2" y2="446.2"/>
<text class="c6" x="608.4" y="303.99" font-size="9.4" text-anchor="middle">元</text>
<text class="c6" x="638.6" y="303.99" font-size="9.4" text-anchor="middle">件</text>
<text class="c6" x="668" y="303.99" font-size="9.4" text-anchor="middle">表</text>
<text class="s" x="513.7" y="316.9" font-size="6.96" text-anchor="middle">11</text>
<text class="s" x="538.8" y="316.79" font-size="6.63" text-anchor="middle">RH</text>
<text class="cm" x="562.4" y="316.63" font-size="6.2">空间加热器</text>
<text class="s" x="649.2" y="316.9" font-size="6.96" text-anchor="middle">11</text>
<text class="s" x="513.7" y="327.03" font-size="6.96" text-anchor="middle">10</text>
<text class="s" x="538.8" y="326.92" font-size="6.63" text-anchor="middle">CT</text>
<text class="cm" x="562.4" y="326.76" font-size="6.2">电流传感器</text>
<text class="s" x="649.2" y="327.03" font-size="6.96" text-anchor="middle">10</text>
<text class="s" x="513.7" y="337.16" font-size="6.96" text-anchor="middle">9</text>
<text class="s" x="538.8" y="337.05" font-size="6.63" text-anchor="middle">RL1-5</text>
<text class="cm" x="562.4" y="336.89" font-size="6.2">状态输出继电器</text>
<text class="s" x="649.2" y="337.16" font-size="6.96" text-anchor="middle">9</text>
<text class="s" x="513.7" y="347.29" font-size="6.96" text-anchor="middle">8</text>
<text class="s" x="538.8" y="347.18" font-size="6.63" text-anchor="middle">RP1</text>
<text class="cm" x="562.4" y="347.02" font-size="6.2">位置反馈电位器</text>
<text class="s" x="649.2" y="347.29" font-size="6.96" text-anchor="middle">8</text>
<text class="s" x="513.7" y="357.42" font-size="6.96" text-anchor="middle">7</text>
<text class="s" x="538.8" y="357.31" font-size="6.63" text-anchor="middle">T/W</text>
<text class="cm" x="562.4" y="357.15" font-size="6.2">事故/电源指示灯</text>
<text class="s" x="649.2" y="357.42" font-size="6.96" text-anchor="middle">7</text>
<text class="s" x="513.7" y="367.55" font-size="6.96" text-anchor="middle">6</text>
<text class="s" x="538.8" y="367.44" font-size="6.63" text-anchor="middle">O/C</text>
<text class="cm" x="562.4" y="367.29" font-size="6.2">阀开/阀关指示灯</text>
<text class="s" x="649.2" y="367.55" font-size="6.96" text-anchor="middle">6</text>
<text class="s" x="513.7" y="377.68" font-size="6.96" text-anchor="middle">5</text>
<text class="s" x="538.8" y="377.57" font-size="6.63" text-anchor="middle">L/R</text>
<text class="cm" x="562.4" y="377.42" font-size="6.2">本地/远程工作指示灯</text>
<text class="s" x="649.2" y="377.68" font-size="6.96" text-anchor="middle">5</text>
<text class="s" x="513.7" y="387.81" font-size="6.96" text-anchor="middle">4</text>
<text class="s" x="538.8" y="387.7" font-size="6.63" text-anchor="middle" textLength="27.5" lengthAdjust="spacingAndGlyphs">STO STC</text>
<text class="cm" x="562.4" y="387.55" font-size="6.2">开、关向力矩限位开关</text>
<text class="s" x="649.2" y="387.81" font-size="6.96" text-anchor="middle">4</text>
<text class="s" x="513.7" y="397.94" font-size="6.96" text-anchor="middle">3</text>
<text class="s" x="538.8" y="397.83" font-size="6.63" text-anchor="middle" textLength="27.5" lengthAdjust="spacingAndGlyphs">SL2-SL16</text>
<text class="cm" x="562.4" y="397.68" font-size="6.2">开、关向行程限位开关</text>
<text class="s" x="649.2" y="397.94" font-size="6.96" text-anchor="middle">3</text>
<text class="an" x="672.8" y="397.53" font-size="5.8" text-anchor="middle">SC1</text>
<text class="cm" x="695" y="397.68" font-size="6.2">手动关阀按钮</text>
<text class="s" x="513.7" y="408.07" font-size="6.96" text-anchor="middle">2</text>
<text class="s" x="538.8" y="407.96" font-size="6.63" text-anchor="middle">KM1-2</text>
<text class="cm" x="562.4" y="407.81" font-size="6.2">交流接触器</text>
<text class="s" x="649.2" y="408.07" font-size="6.96" text-anchor="middle">2</text>
<text class="an" x="672.8" y="407.66" font-size="5.8" text-anchor="middle">SO1</text>
<text class="cm" x="695" y="407.81" font-size="6.2">手动开阀按钮</text>
<text class="s" x="513.7" y="418.2" font-size="6.96" text-anchor="middle">1</text>
<text class="s" x="538.8" y="418.09" font-size="6.63" text-anchor="middle">M</text>
<text class="cm" x="562.4" y="417.9" font-size="6.1" textLength="77" lengthAdjust="spacingAndGlyphs">阀门专用电机（带TH热元件）</text>
<text class="s" x="649.2" y="418.2" font-size="6.96" text-anchor="middle">1</text>
<text class="an" x="672.8" y="417.79" font-size="5.8" text-anchor="middle">SS1</text>
<text class="cm" x="695" y="417.94" font-size="6.2">手动停止按钮</text>
<text class="cb" x="513.7" y="427.74" font-size="5.8" text-anchor="middle">序号</text>
<text class="cb" x="538.8" y="427.74" font-size="5.8" text-anchor="middle">标 号</text>
<text class="cb" x="600.5" y="427.74" font-size="5.8" text-anchor="middle">名　　称</text>
<text class="cb" x="649.2" y="427.74" font-size="5.8" text-anchor="middle">序号</text>
<text class="cb" x="672.8" y="427.74" font-size="5.8" text-anchor="middle">标 号</text>
<text class="cb" x="730.6" y="427.74" font-size="5.8" text-anchor="middle">名　　称</text>
<text class="cb" x="575.4" y="440.91" font-size="6.6" text-anchor="middle" letter-spacing="1">在电动装置上</text>
<text class="cb" x="706.4" y="440.91" font-size="6.6" text-anchor="middle" letter-spacing="1">在控制室内</text>
<line x1="531.2" y1="446.2" x2="531.2" y2="477"/>
<text class="c6" x="517.4" y="465.57" font-size="10.2" text-anchor="middle">备注</text>
<text class="ch" x="585.8" y="465.46" font-size="9.9">整体型</text>
<text class="ch" x="620.8" y="465.46" font-size="9.9">带电流输出</text>
<rect x="503.8" y="477" width="276.7" height="48.3" stroke-width="1.9"/>
<line x1="523.6" y1="477" x2="523.6" y2="525.3" stroke-width="1.2"/>
<line x1="699.2" y1="477" x2="699.2" y2="525.3" stroke-width="1.2"/>
<line x1="699.2" y1="501.4" x2="780.5" y2="501.4" stroke-width="1.2"/>
<text class="c6" font-size="12.6" text-anchor="middle" transform="translate(514.2,487.8) rotate(90)" x="0" y="4.4">名</text>
<text class="c6" font-size="12.6" text-anchor="middle" transform="translate(514.2,515.6) rotate(90)" x="0" y="4.4">称</text>
<text class="s" x="605.6" y="495.68" font-size="10.5" text-anchor="middle">SMC</text>
<text class="c6" x="612.4" y="513.8" font-size="10.3" text-anchor="middle">系列阀门电动装置电气原理图</text>
<text class="ch" x="738.2" y="489.03" font-size="9.8" text-anchor="middle">适用于SMC</text>
<text class="ch" x="740.4" y="499.73" font-size="9.8" text-anchor="middle" textLength="70" lengthAdjust="spacingAndGlyphs">(AC380V3相3线)</text>
<text class="ch" x="740.4" y="511.56" font-size="9.6" text-anchor="middle">天津百利二通</text>
<text class="ch" x="740.4" y="521.86" font-size="9.6" text-anchor="middle">机械有限公司</text>
</g>
</g>
</svg>
</body>
</html>
